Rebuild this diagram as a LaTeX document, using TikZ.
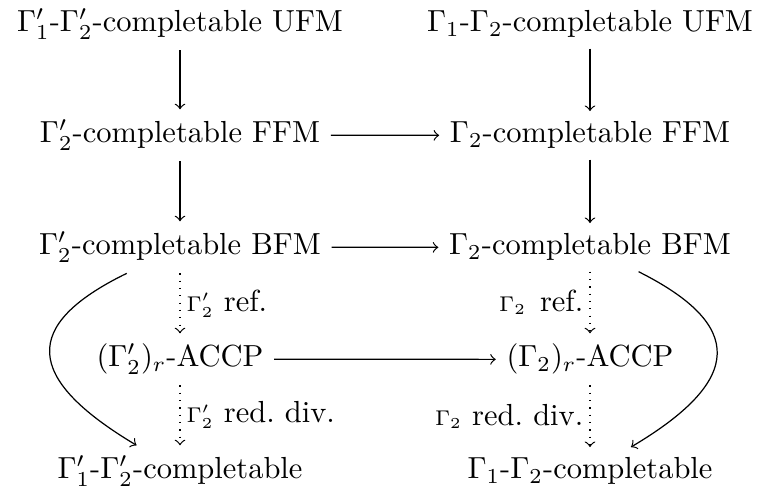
\documentclass[tikz,border=0pt]{standalone}
\usepackage{amsmath}
\begin{document}
\begin{tikzpicture}[x=0.328pt,y=-0.328pt,
  cell/.style={anchor=base},
  arr/.style={->},
  dotarr/.style={->,dotted},
  lab/.style={inner sep=2pt}]
\useasboundingbox (0,0) rectangle (758,486);
\node[cell] (ufmL) at (180,32) {$\Gamma'_1$-$\Gamma'_2$-completable UFM};
\node[cell] (ufmR) at (590,32) {$\Gamma_1$-$\Gamma_2$-completable UFM};
\node[cell] (ffmL) at (180,143) {$\Gamma'_2$-completable FFM};
\node[cell] (ffmR) at (590,143) {$\Gamma_2$-completable FFM};
\node[cell] (bfmL) at (180,255) {$\Gamma'_2$-completable BFM};
\node[cell] (bfmR) at (590,255) {$\Gamma_2$-completable BFM};
\node[cell] (acL) at (180,367) {$(\Gamma'_2)_r$-ACCP};
\node[cell] (acR) at (590,367) {$(\Gamma_2)_r$-ACCP};
\node[cell] (cL) at (180,479) {$\Gamma'_1$-$\Gamma'_2$-completable};
\node[cell] (cR) at (590,479) {$\Gamma_1$-$\Gamma_2$-completable};

\draw[arr] (ufmL) -- (ffmL);
\draw[arr] (ufmR) -- (ffmR);
\draw[arr] (ffmL) -- (ffmR);
\draw[arr] (ffmL) -- (bfmL);
\draw[arr] (ffmR) -- (bfmR);
\draw[arr] (bfmL) -- (bfmR);
\draw[arr] (acL) -- (acR);
\draw[dotarr] (bfmL) -- node[lab,right] {$\scriptstyle\Gamma'_2$ ref.} (acL);
\draw[dotarr] (acL) -- node[lab,right] {$\scriptstyle\Gamma'_2$ red.\ div.} (cL);
\draw[dotarr] (bfmR) -- node[lab,left] {$\scriptstyle\Gamma_2$\hspace{1.2pt} ref.} (acR);
\draw[dotarr] (acR) -- node[lab,left] {$\scriptstyle\Gamma_2$ red.\ div.} (cR);
\draw[arr] (bfmL) .. controls (21,325) and (24,378) .. (cL);
\draw[arr] (bfmR) .. controls (745,325) and (744,380) .. (cR);
\end{tikzpicture}
\end{document}
